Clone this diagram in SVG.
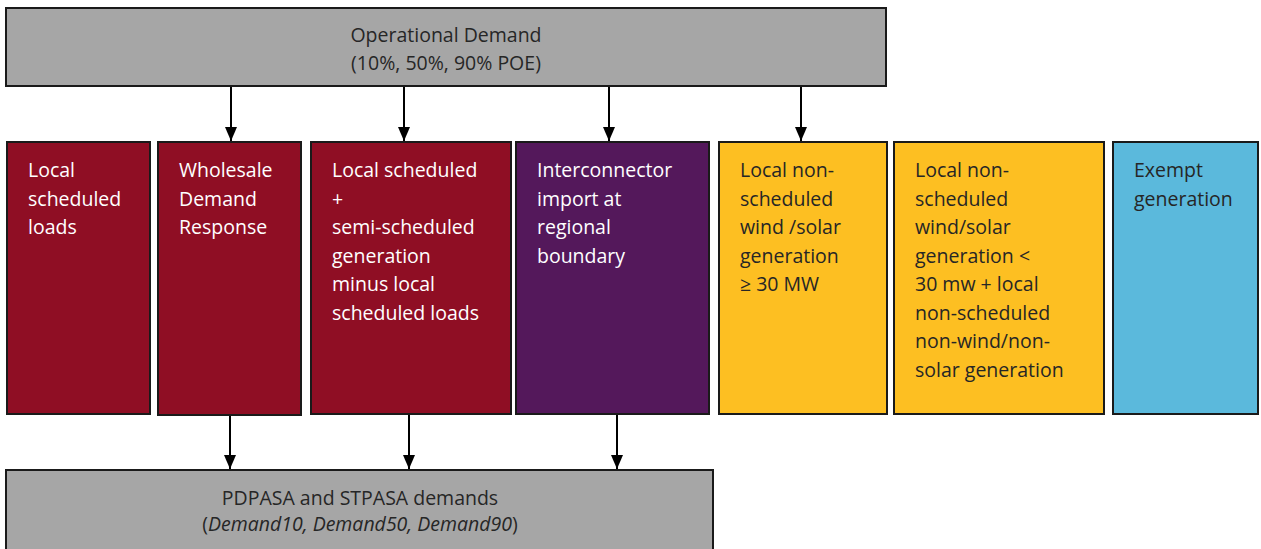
<svg xmlns="http://www.w3.org/2000/svg" width="1261" height="549" viewBox="0 0 1261 549">
<defs>
<marker id="ah" viewBox="0 0 14 12" refX="14" refY="6" markerWidth="14" markerHeight="12" markerUnits="userSpaceOnUse" orient="auto">
<path d="M0,0 L14,6 L0,12 Z" fill="#000"/>
</marker>
<style>
.box{stroke:#1a1a1a;stroke-width:2}
.gray{fill:#a6a6a6}
.red{fill:#8f0e24}
.pur{fill:#54185b}
.yel{fill:#fdbf22}
.blu{fill:#5bb9dc}
text{font-family:"Open Sans","Noto Sans",sans-serif;font-size:19.5px}
.w{fill:#ffffff}
.d{fill:#262626}
.c{text-anchor:middle}
.conn line{stroke:#000;stroke-width:2;marker-end:url(#ah)}
</style>
</defs>
<rect width="1261" height="549" fill="#ffffff"/>
<g id="operational-demand">
<rect class="box gray" x="6" y="8" width="880" height="78"/>
<text class="d c" x="446" y="42">Operational Demand</text>
<text class="d c" x="446" y="70">(10%, 50%, 90% POE)</text>
</g>
<g id="local-scheduled-loads">
<rect class="box red" x="7" y="142" width="143" height="272"/>
<text class="w"><tspan x="28" y="177">Local</tspan><tspan x="28" y="205.5">scheduled</tspan><tspan x="28" y="234">loads</tspan></text>
</g>
<g id="wholesale-demand-response">
<rect class="box red" x="158" y="142" width="143" height="273"/>
<text class="w"><tspan x="179" y="177">Wholesale</tspan><tspan x="179" y="205.5">Demand</tspan><tspan x="179" y="234">Response</tspan></text>
</g>
<g id="local-scheduled-generation">
<rect class="box red" x="311" y="142" width="200" height="272"/>
<text class="w"><tspan x="332" y="177">Local scheduled</tspan><tspan x="332" y="205.5">+</tspan><tspan x="332" y="234">semi-scheduled</tspan><tspan x="332" y="262.5">generation</tspan><tspan x="332" y="291">minus local</tspan><tspan x="332" y="319.5">scheduled loads</tspan></text>
</g>
<g id="interconnector-import">
<rect class="box pur" x="516" y="142" width="193" height="272"/>
<text class="w"><tspan x="537" y="177">Interconnector</tspan><tspan x="537" y="205.5">import at</tspan><tspan x="537" y="234">regional</tspan><tspan x="537" y="262.5">boundary</tspan></text>
</g>
<g id="non-scheduled-ge30">
<rect class="box yel" x="719" y="142" width="168" height="272"/>
<text class="d"><tspan x="740" y="177">Local non-</tspan><tspan x="740" y="205.5">scheduled</tspan><tspan x="740" y="234">wind /solar</tspan><tspan x="740" y="262.5">generation</tspan><tspan x="740" y="291">≥ 30 MW</tspan></text>
</g>
<g id="non-scheduled-lt30">
<rect class="box yel" x="894" y="142" width="210" height="272"/>
<text class="d"><tspan x="915" y="177">Local non-</tspan><tspan x="915" y="205.5">scheduled</tspan><tspan x="915" y="234">wind/solar</tspan><tspan x="915" y="262.5">generation &lt;</tspan><tspan x="915" y="291">30 mw + local</tspan><tspan x="915" y="319.5">non-scheduled</tspan><tspan x="915" y="348">non-wind/non-</tspan><tspan x="915" y="376.5">solar generation</tspan></text>
</g>
<g id="exempt-generation">
<rect class="box blu" x="1113" y="142" width="145" height="272"/>
<text class="d"><tspan x="1134" y="177">Exempt</tspan><tspan x="1134" y="205.5">generation</tspan></text>
</g>
<g id="pasa-demands">
<rect class="box gray" x="6" y="470" width="707" height="90"/>
<text class="d c" x="360" y="505">PDPASA and STPASA demands</text>
<text class="d c" x="360" y="531">(<tspan font-style="italic">Demand10, Demand50, Demand90</tspan>)</text>
</g>
<g id="connectors" class="conn">
<line x1="231" y1="87" x2="231" y2="141"/>
<line x1="404" y1="87" x2="404" y2="141"/>
<line x1="609" y1="87" x2="609" y2="141"/>
<line x1="801" y1="87" x2="801" y2="141"/>
<line x1="230" y1="416" x2="230" y2="469"/>
<line x1="409" y1="415" x2="409" y2="469"/>
<line x1="617" y1="415" x2="617" y2="469"/>
</g>
</svg>
